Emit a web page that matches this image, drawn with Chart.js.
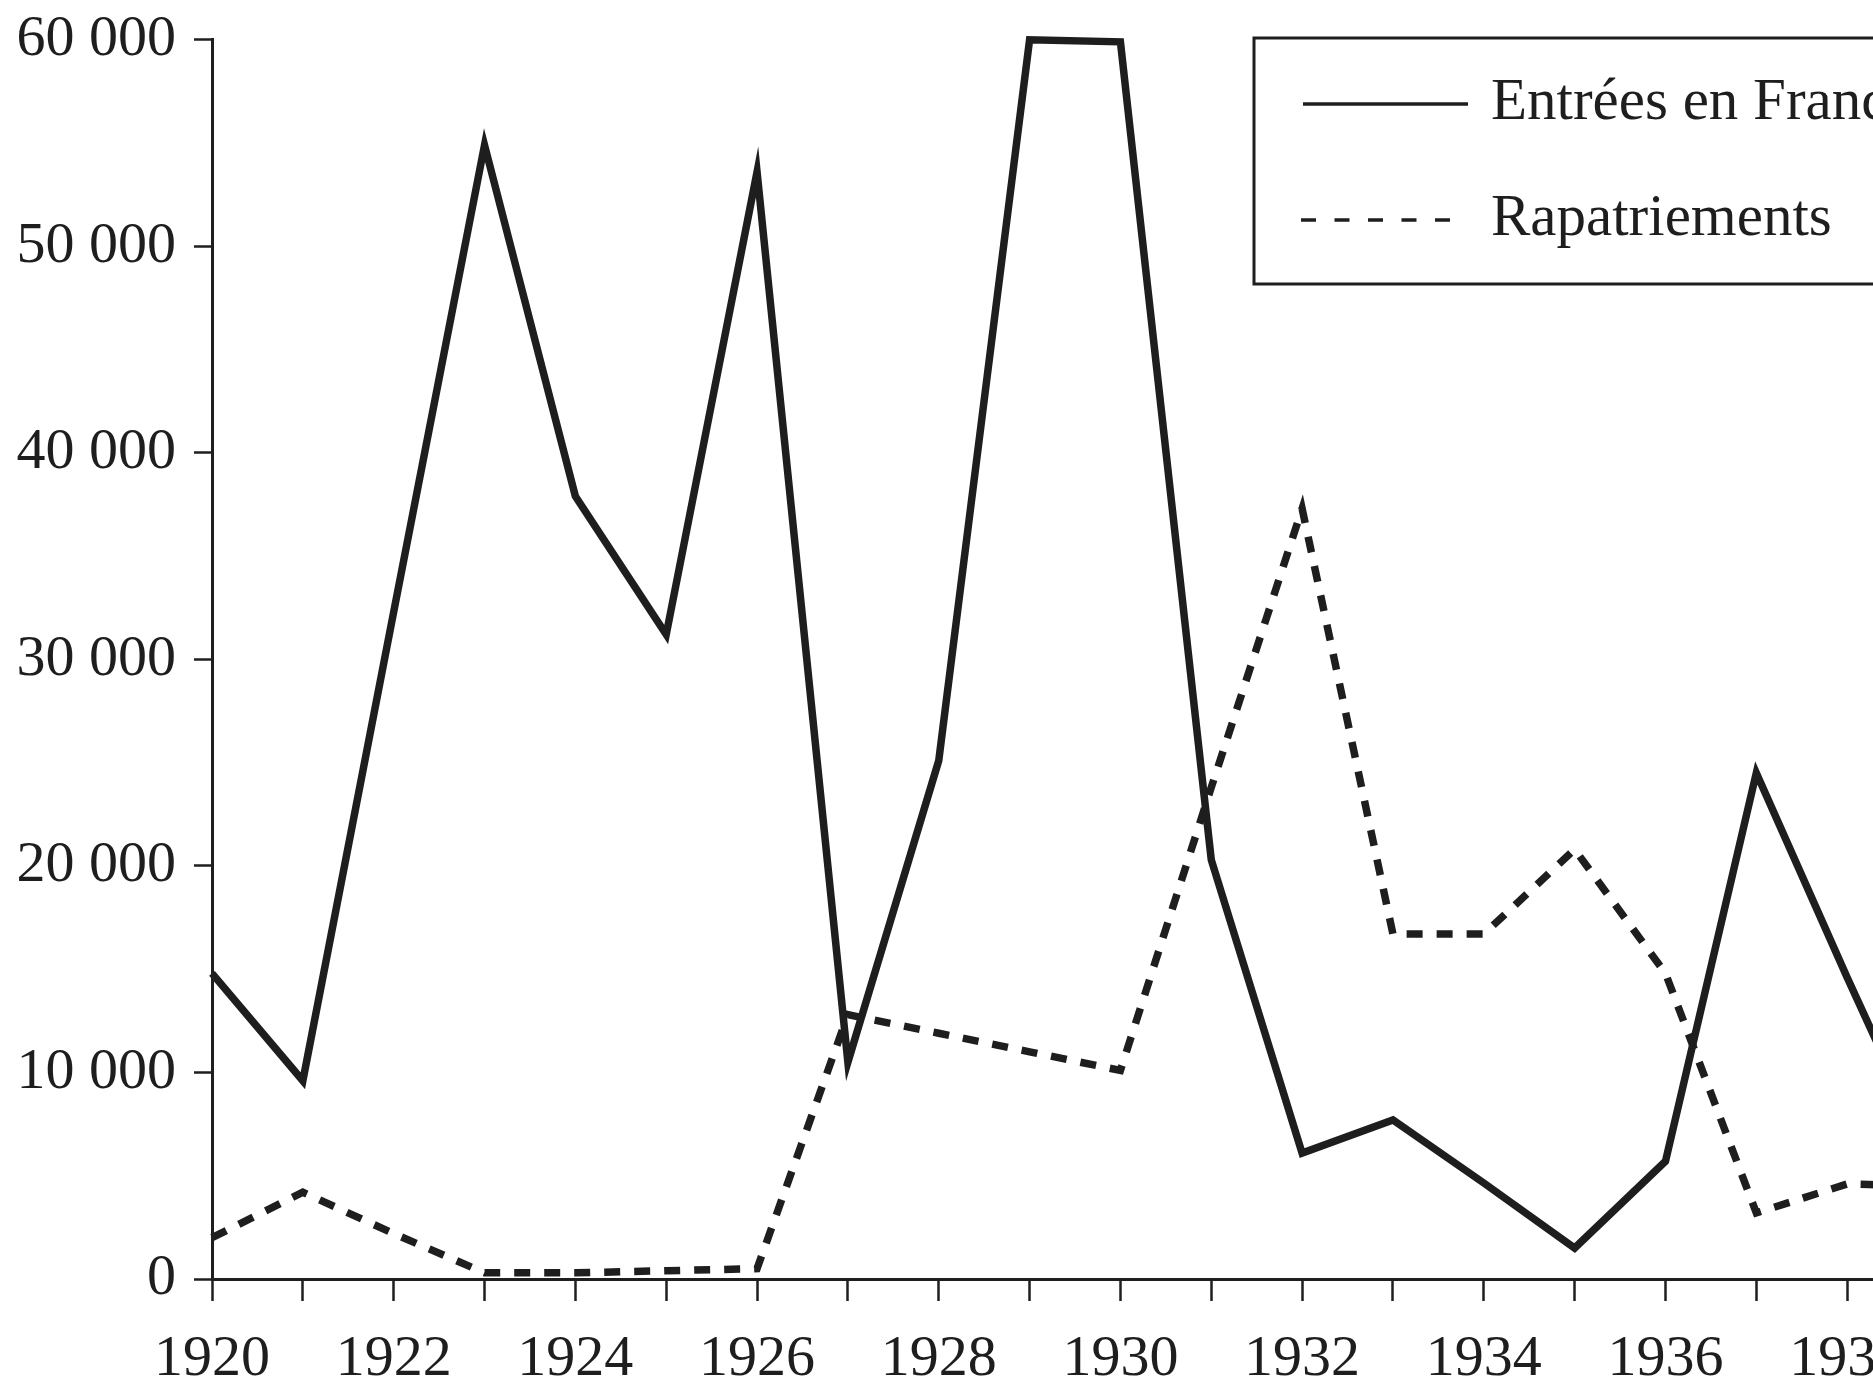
<!DOCTYPE html>
<html>
<head>
<meta charset="utf-8">
<script src="https://cdn.jsdelivr.net/npm/chart.js@4.4.1/dist/chart.umd.min.js"></script>
<style>
  html, body { margin: 0; padding: 0; background: #fff; overflow: hidden; }
  #wrap { position: absolute; left: 0; top: -13px; width: 1962px; height: 1396px; }
</style>
</head>
<body>
<div id="wrap"><canvas id="chart"></canvas></div>
<script>
/* ================= DATA ================= */
const years = [1920, 1921, 1922, 1923, 1924, 1925, 1926, 1927, 1928, 1929,
               1930, 1931, 1932, 1933, 1934, 1935, 1936, 1937, 1938, 1939];

const entrees = [14800, 9600, 32300, 54900, 37900, 31200, 53600, 10500, 25100, 60000,
                 59900, 20300, 6100, 7700, 4650, 1500, 5700, 24500, 14600, 5000];

const rapatriements = [2000, 4200, 2200, 300, 300, 400, 500, 12800, 11900, 11000,
                       10100, 23800, 37300, 16700, 16700, 20800, 14800, 3200, 4600, 4500];

const yTicks = [0, 10000, 20000, 30000, 40000, 50000, 60000];
const seriesNames = ["Entrées en France", "Rapatriements"];

/* ================= STYLE ================= */
const INK = "#1e1e1e";
const FONT = "'Liberation Serif', 'DejaVu Serif', serif";
const DASH = [16, 14];

const fmt = v => String(v).replace(/\B(?=(\d{3})+(?!\d))/g, " ");

/* ================= LEGEND (boxed, top right) ================= */
// canvas is shifted up 13px, so page y = canvas y - 13
const legendBox = {
    id: "legendBox",
    afterDatasetsDraw(chart) {
        const ctx = chart.ctx;
        const a = chart.chartArea;
        const x0 = 1254, y0 = 38 + 13, x1 = a.right, y1 = 284 + 13;

        ctx.save();
        ctx.fillStyle = "#fff";
        ctx.fillRect(x0, y0, x1 - x0, y1 - y0);
        ctx.strokeStyle = INK;
        ctx.lineWidth = 3;
        ctx.strokeRect(x0, y0, x1 - x0, y1 - y0);

        // solid sample
        ctx.lineWidth = 3.5;
        ctx.setLineDash([]);
        ctx.beginPath();
        ctx.moveTo(1303, 104 + 13);
        ctx.lineTo(1468, 104 + 13);
        ctx.stroke();

        // dashed sample
        ctx.setLineDash([15, 18.5]);
        ctx.beginPath();
        ctx.moveTo(1301, 220 + 13);
        ctx.lineTo(1452, 220 + 13);
        ctx.stroke();
        ctx.setLineDash([]);

        ctx.fillStyle = INK;
        ctx.font = "59px " + FONT;
        ctx.textBaseline = "alphabetic";
        ctx.fillText(seriesNames[0], 1491, 119 + 13);
        ctx.fillText(seriesNames[1], 1491, 235 + 13);
        ctx.restore();
    }
};

/* ================= CHART ================= */
const ctx = document.getElementById("chart").getContext("2d");
new Chart(ctx, {
    type: "line",
    data: {
        datasets: [
            {
                label: seriesNames[0],
                data: years.map((y, i) => ({ x: y, y: entrees[i] })),
                borderColor: INK,
                borderWidth: 7.5,
                borderJoinStyle: "miter",
                pointRadius: 0,
                tension: 0,
                clip: false
            },
            {
                label: seriesNames[1],
                data: years.map((y, i) => ({ x: y, y: rapatriements[i] })),
                borderColor: INK,
                borderWidth: 7.5,
                borderDash: DASH,
                borderJoinStyle: "miter",
                pointRadius: 0,
                tension: 0,
                clip: false
            }
        ]
    },
    options: {
        responsive: true,
        maintainAspectRatio: false,
        animation: false,
        layout: { padding: { top: 26, right: 4, left: 0, bottom: 0 } },
        plugins: { legend: { display: false }, tooltip: { enabled: false } },
        scales: {
            x: {
                type: "linear",
                min: years[0],
                max: years[years.length - 1],
                afterFit: s => { s.height = 104; },
                afterBuildTicks: s => { s.ticks = years.map(v => ({ value: v })); },
                border: { display: true, color: INK, width: 3 },
                grid: { drawOnChartArea: false, drawTicks: true, tickLength: 22, tickWidth: 2.5, tickColor: INK },
                ticks: {
                    autoSkip: false,
                    maxRotation: 0,
                    padding: 24,
                    color: INK,
                    font: { family: FONT, size: 58 },
                    callback: v => (v % 2 === 0 ? String(v) : "")
                }
            },
            y: {
                min: yTicks[0],
                max: yTicks[yTicks.length - 1],
                afterFit: s => { s.width = 212; },
                afterBuildTicks: s => { s.ticks = yTicks.map(v => ({ value: v })); },
                border: { display: true, color: INK, width: 3 },
                grid: { drawOnChartArea: false, drawTicks: true, tickLength: 18, tickWidth: 2.5, tickColor: INK },
                ticks: {
                    padding: 18,
                    color: INK,
                    font: { family: FONT, size: 58 },
                    callback: v => fmt(v)
                }
            }
        }
    },
    plugins: [legendBox]
});
</script>
</body>
</html>
